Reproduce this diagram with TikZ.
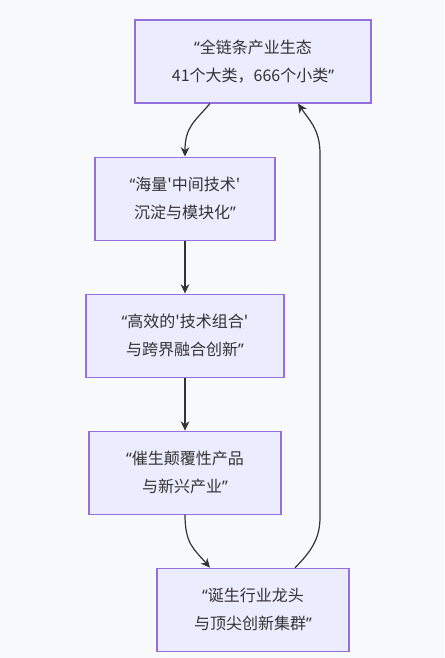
\documentclass[tikz,border=0pt]{standalone}
\usepackage{fontspec}
\newfontfamily\cjk{Noto Sans CJK SC}
\newfontfamily\latn{Noto Sans}
\newcommand\qopen{{\latn “}}
\newcommand\qclose{{\latn ”}}
\usetikzlibrary{arrows.meta,positioning}
\definecolor{flowink}{HTML}{333333}
\definecolor{flowfill}{HTML}{ECECFF}
\definecolor{flowedge}{HTML}{9370DB}
\definecolor{flowback}{HTML}{F8F9FB}

\begin{document}
\begin{tikzpicture}[
  font=\cjk\fontsize{12pt}{21pt}\selectfont,
  stage/.style={draw=flowedge, fill=flowfill, line width=0.8pt,
    minimum height=62.25pt, align=center, text=flowink, inner sep=0pt},
  flow/.style={-{Stealth[length=7pt,width=6.5pt]}, line width=0.9pt, draw=flowink}
]
  \fill[flowback] (0,0) rectangle (333pt,-493.5pt);
  \useasboundingbox (0,0) rectangle (333pt,-493.5pt);

  \node[stage, minimum width=177pt] (ecosys) at (189.75pt,-46.1pt) {\qopen 全链条产业生态\\41个大类，666个小类\qclose};
  \node[stage, minimum width=135pt, below=39.75pt of ecosys, xshift=-51pt] (modules) {\qopen 海量'中间技术'\\沉淀与模块化\qclose};
  \node[stage, minimum width=148.5pt, below=39.75pt of modules] (combine) {\qopen 高效的'技术组合'\\与跨界融合创新\qclose};
  \node[stage, minimum width=144pt, below=39.75pt of combine] (disrupt) {\qopen 催生颠覆性产品\\与新兴产业\qclose};
  \node[stage, minimum width=144pt, below=39.75pt of disrupt, xshift=51pt] (leaders) {\qopen 诞生行业龙头\\与顶尖创新集群\qclose};

  \coordinate (loopbot) at (240pt,-388pt);
  \coordinate (looptop) at (240pt,-115pt);

  \draw[flow] ([xshift=-32.25pt]ecosys.south) .. controls +(-12pt,-14pt) and +(0,22pt) .. (modules.north);
  \draw[flow] (modules) -- (combine);
  \draw[flow] (combine) -- (disrupt);
  \draw[flow] (disrupt.south) .. controls +(0,-22pt) and +(-12pt,14pt) .. ([xshift=-32.25pt]leaders.north);
  \draw[flow] ([xshift=31.5pt]leaders.north) .. controls +(12pt,12pt) and +(0,-16pt) .. (loopbot)
    -- (looptop) .. controls +(0,18pt) and +(8pt,-12pt) .. ([xshift=33.75pt]ecosys.south);
\end{tikzpicture}
\end{document}
